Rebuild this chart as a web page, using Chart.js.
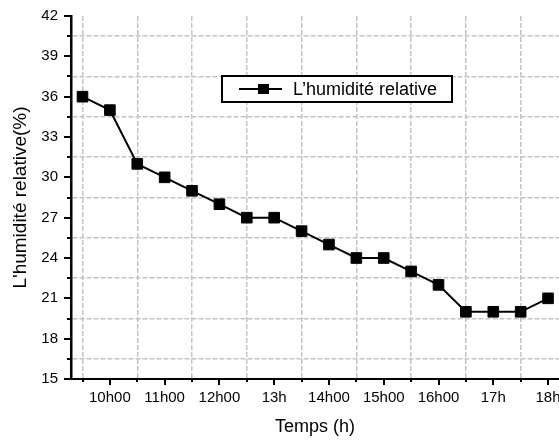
<!DOCTYPE html>
<html>
<head>
<meta charset="utf-8">
<script src="https://cdn.jsdelivr.net/npm/chart.js@4.4.1/dist/chart.umd.min.js"></script>
<style>
  html, body { margin: 0; padding: 0; background: #fff; }
  #wrap { width: 559px; height: 441px; }
</style>
</head>
<body>
<div id="wrap"><canvas id="c" width="559" height="441"></canvas></div>
<script>
// Relative humidity readings, every half hour
const times = [9.5, 10, 10.5, 11, 11.5, 12, 12.5, 13, 13.5, 14, 14.5, 15, 15.5, 16, 16.5, 17, 17.5, 18];
const humidity = [36, 35, 31, 30, 29, 28, 27, 27, 26, 25, 24, 24, 23, 22, 20, 20, 20, 21];

// Axis labels
const hourTicks = [10, 11, 12, 13, 14, 15, 16, 17, 18];
const hourLabels = ['10h00', '11h00', '12h00', '13h', '14h00', '15h00', '16h00', '17h', '18h'];
const yTicks = [15, 18, 21, 24, 27, 30, 33, 36, 39, 42];

const seriesName = 'L’humidité relative';
const xTitle = 'Temps (h)';
const yTitle = "L'humidité relative(%)";

Chart.defaults.font.family = '"Liberation Sans", Arial, sans-serif';
Chart.defaults.color = '#000';

const GRID = '#c4c4c4';
const NONE = 'rgba(0,0,0,0)';

// Outward tick marks: long on labelled values, short in between
const tickMarks = {
  id: 'tickMarks',
  afterDraw(chart) {
    const { ctx, chartArea: a, scales: { x, y } } = chart;
    ctx.save();
    ctx.strokeStyle = '#000';
    ctx.lineWidth = 2;
    x.ticks.forEach(t => {
      const px = Math.round(x.getPixelForValue(t.value));
      const len = hourTicks.includes(t.value) ? 6 : 3;
      ctx.beginPath();
      ctx.moveTo(px, a.bottom);
      ctx.lineTo(px, a.bottom + len);
      ctx.stroke();
    });
    y.ticks.forEach(t => {
      const py = Math.round(y.getPixelForValue(t.value));
      const len = yTicks.includes(t.value) ? 7 : 4;
      ctx.beginPath();
      ctx.moveTo(a.left, py);
      ctx.lineTo(a.left - len, py);
      ctx.stroke();
    });
    ctx.restore();
  }
};

// Boxed legend inside the plot
const boxedLegend = {
  id: 'boxedLegend',
  afterDraw(chart) {
    const { ctx } = chart;
    const bx = 222, by = 76, bw = 230, bh = 26;
    const cy = by + bh / 2;
    ctx.save();
    ctx.fillStyle = '#fff';
    ctx.fillRect(bx, by, bw, bh);
    ctx.strokeStyle = '#000';
    ctx.lineWidth = 2;
    ctx.strokeRect(bx, by, bw, bh);
    ctx.beginPath();
    ctx.moveTo(bx + 17, cy);
    ctx.lineTo(bx + 60, cy);
    ctx.stroke();
    ctx.fillStyle = '#000';
    ctx.fillRect(bx + 36, cy - 5, 11, 10);
    ctx.font = '18px "Liberation Sans", Arial, sans-serif';
    ctx.textBaseline = 'middle';
    ctx.textAlign = 'left';
    ctx.fillText(seriesName, bx + 71, cy + 1);
    ctx.restore();
  }
};

new Chart(document.getElementById('c'), {
  type: 'line',
  data: {
    datasets: [{
      label: seriesName,
      data: times.map((t, i) => ({ x: t, y: humidity[i] })),
      borderColor: '#000',
      backgroundColor: '#000',
      borderWidth: 2,
      pointStyle: 'rect',
      pointRadius: 7.5,
      pointBorderWidth: 1,
      pointBorderColor: '#000',
      pointBackgroundColor: '#000',
      tension: 0,
      clip: false
    }]
  },
  options: {
    responsive: false,
    animation: false,
    devicePixelRatio: 1,
    layout: { autoPadding: false, padding: { top: 16, left: 0, right: 0, bottom: 0 } },
    plugins: {
      legend: { display: false },
      tooltip: { enabled: false }
    },
    scales: {
      x: {
        type: 'linear',
        min: 9.29,
        max: 18.2,
        afterBuildTicks(s) {
          const t = [];
          for (let v = 9.5; v <= 18; v += 0.5) t.push({ value: v });
          s.ticks = t;
        },
        afterFit(s) {
          s.height = 62;
          s.paddingLeft = 0;
          s.paddingRight = 0;
        },
        ticks: {
          autoSkip: false,
          maxRotation: 0,
          padding: 10,
          font: { size: 15 },
          callback: v => {
            const i = hourTicks.indexOf(v);
            return i >= 0 ? hourLabels[i] : '';
          }
        },
        grid: {
          drawTicks: false,
          lineWidth: 1.5,
          color: c => (c.tick && !hourTicks.includes(c.tick.value)) ? GRID : NONE,
          borderDash: [5, 2]
        },
        border: { display: true, color: '#000', width: 2, dash: [5, 2] },
        title: {
          display: true,
          text: xTitle,
          font: { size: 18 },
          padding: { top: 0, bottom: 3 }
        }
      },
      y: {
        min: 15,
        max: 42,
        afterBuildTicks(s) {
          const t = [];
          for (let v = 15; v <= 42; v += 1.5) t.push({ value: v });
          s.ticks = t;
        },
        afterFit(s) {
          s.width = 71;
          s.paddingTop = 0;
          s.paddingBottom = 0;
        },
        ticks: {
          autoSkip: false,
          padding: 13,
          font: { size: 15 },
          callback: v => yTicks.includes(v) ? String(v) : ''
        },
        grid: {
          drawTicks: false,
          lineWidth: 1.5,
          color: c => (c.tick && !yTicks.includes(c.tick.value)) ? GRID : NONE,
          borderDash: [5, 2]
        },
        border: { display: true, color: '#000', width: 2.5, dash: [5, 2] },
        title: {
          display: true,
          text: yTitle,
          font: { size: 19 },
          padding: { top: 9, bottom: 0 }
        }
      }
    }
  },
  plugins: [tickMarks, boxedLegend]
});
</script>
</body>
</html>
